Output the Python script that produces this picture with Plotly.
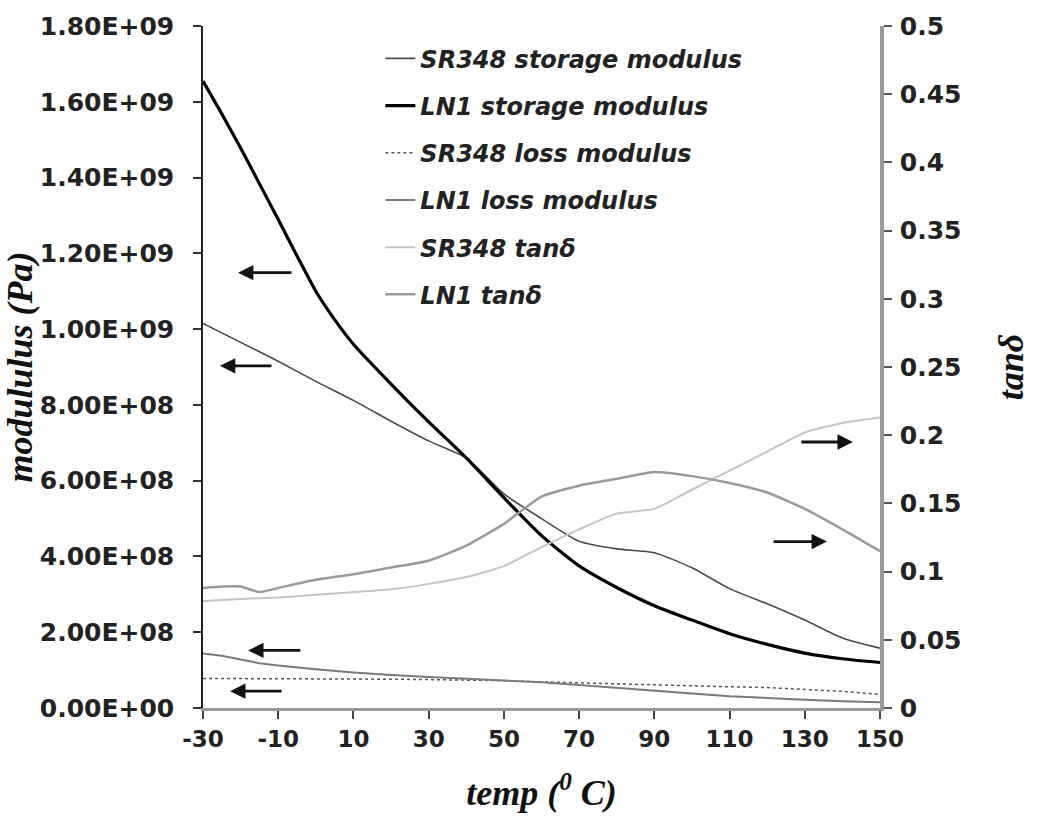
import plotly.graph_objects as go

# ---------------- data ----------------
temp = [-30, -20, -10, 0, 10, 20, 30, 40, 50, 60, 70, 80, 90, 100, 110, 120, 130, 140, 150]

sr348_storage = [1.015e9, 0.965e9, 0.915e9, 0.862e9, 0.812e9, 0.757e9, 0.705e9, 0.66e9, 0.565e9,
                 0.50e9, 0.44e9, 0.42e9, 0.41e9, 0.37e9, 0.315e9, 0.275e9, 0.232e9, 0.185e9, 0.158e9]

ln1_storage_temp = [-30, -25, -20, -15, -10, -5, 0, 5, 10, 20, 30, 40, 50, 60, 70, 80, 90, 100,
                    110, 120, 130, 140, 150]
ln1_storage = [1.655e9, 1.568e9, 1.478e9, 1.384e9, 1.289e9, 1.193e9, 1.10e9, 1.025e9, 0.96e9, 0.855e9,
               0.755e9, 0.66e9, 0.555e9, 0.455e9, 0.375e9, 0.318e9, 0.27e9, 0.232e9, 0.196e9,
               0.168e9, 0.145e9, 0.13e9, 0.12e9]

sr348_loss = [0.078e9, 0.078e9, 0.078e9, 0.078e9, 0.077e9, 0.076e9, 0.075e9, 0.074e9, 0.072e9,
              0.069e9, 0.066e9, 0.063e9, 0.060e9, 0.058e9, 0.056e9, 0.054e9, 0.050e9, 0.044e9, 0.036e9]

ln1_loss_temp = [-30, -25, -20, -15, -10, 0, 10, 20, 30, 40, 50, 60, 70, 80, 90, 100, 110, 120, 130, 140, 150]
ln1_loss = [0.144e9, 0.138e9, 0.128e9, 0.118e9, 0.112e9, 0.102e9, 0.094e9, 0.087e9, 0.082e9, 0.078e9,
            0.073e9, 0.068e9, 0.061e9, 0.053e9, 0.045e9, 0.038e9, 0.031e9, 0.026e9, 0.022e9, 0.018e9, 0.015e9]

sr348_tan = [0.0785, 0.080, 0.081, 0.083, 0.085, 0.087, 0.091, 0.096, 0.104, 0.118,
             0.131, 0.1425, 0.146, 0.160, 0.174, 0.188, 0.202, 0.209, 0.213]

ln1_tan_temp = [-30, -25, -20, -15, -10, 0, 10, 20, 30, 40, 50, 60, 70, 80, 90, 100, 110, 120, 130, 140, 150]
ln1_tan = [0.088, 0.089, 0.089, 0.085, 0.088, 0.094, 0.098, 0.103, 0.108, 0.119, 0.135, 0.155,
           0.163, 0.168, 0.173, 0.170, 0.165, 0.158, 0.146, 0.131, 0.115]

series_names = ["SR348 storage modulus", "LN1 storage modulus", "SR348 loss modulus",
                "LN1 loss modulus", "SR348 tanδ", "LN1 tanδ"]

x_ticks = [-30, -10, 10, 30, 50, 70, 90, 110, 130, 150]
x_ticktext = ["-30", "-10", "10", "30", "50", "70", "90", "110", "130", "150"]
y_ticks = [0, 2e8, 4e8, 6e8, 8e8, 1e9, 1.2e9, 1.4e9, 1.6e9, 1.8e9]
y_ticktext = ["0.00E+00", "2.00E+08", "4.00E+08", "6.00E+08", "8.00E+08",
              "1.00E+09", "1.20E+09", "1.40E+09", "1.60E+09", "1.80E+09"]

# arrows: (tip_x, tail_x, y)
left_arrows = [(-20.7, -6.1, 1.149e9), (-25.5, -11.4, 0.903e9), (-18.0, -3.7, 0.152e9), (-22.8, -8.7, 0.0445e9)]
right_arrows = [(142.8, 128.7, 0.195), (135.9, 121.3, 0.122)]

# ---------------- figure ----------------
fig = go.Figure()

styles = [
    dict(color="#4a4a4a", width=1.6, shape="spline", smoothing=0.6),
    dict(color="#000000", width=3.2, shape="spline", smoothing=0.6),
    dict(color="#555555", width=1.5, dash="dot"),
    dict(color="#7a7a7a", width=2),
    dict(color="#c4c4c4", width=2, shape="spline", smoothing=0.5),
    dict(color="#9a9a9a", width=2.5, shape="spline", smoothing=0.5),
]

fig.add_trace(go.Scatter(x=temp, y=sr348_storage, name=series_names[0], mode="lines",
                         line=styles[0], legendgroup="a"))
fig.add_trace(go.Scatter(x=ln1_storage_temp, y=ln1_storage, name=series_names[1], mode="lines",
                         line=styles[1], legendgroup="b"))
fig.add_trace(go.Scatter(x=temp, y=sr348_loss, name=series_names[2], mode="lines",
                         line=styles[2], legendgroup="c"))
fig.add_trace(go.Scatter(x=ln1_loss_temp, y=ln1_loss, name=series_names[3], mode="lines",
                         line=styles[3], legendgroup="d"))
fig.add_trace(go.Scatter(x=temp, y=sr348_tan, name=series_names[4], mode="lines",
                         line=styles[4], yaxis="y2", legendgroup="e"))
fig.add_trace(go.Scatter(x=ln1_tan_temp, y=ln1_tan, name=series_names[5], mode="lines",
                         line=styles[5], yaxis="y2", legendgroup="f"))

annotations = []
for tip, tail, yv in left_arrows:
    annotations.append(dict(x=tip, y=yv, ax=tail, ay=yv, xref="x", yref="y", axref="x", ayref="y",
                            text="", showarrow=True, arrowhead=2, arrowsize=1.1, arrowwidth=2.8,
                            arrowcolor="#111"))
for tip, tail, yv in right_arrows:
    annotations.append(dict(x=tip, y=yv, ax=tail, ay=yv, xref="x", yref="y2", axref="x", ayref="y2",
                            text="", showarrow=True, arrowhead=2, arrowsize=1.1, arrowwidth=2.8,
                            arrowcolor="#111"))

tickfont = dict(family="DejaVu Sans", size=25, color="#222", weight="bold")
titlefont = dict(family="Liberation Serif", size=36, color="#111", weight="bold", style="italic")

fig.update_layout(
    width=1044, height=822,
    margin=dict(l=203, r=164, t=22, b=114),
    paper_bgcolor="white", plot_bgcolor="white",
    showlegend=True,
    legend=dict(x=0.262, y=0.985, xanchor="left", yanchor="top",
                font=dict(family="DejaVu Sans", size=24, color="#222", weight="bold", style="italic"),
                bgcolor="rgba(0,0,0,0)", traceorder="grouped", tracegroupgap=13),
    annotations=annotations,
    xaxis=dict(range=[-30, 150], tickvals=x_ticks, ticktext=x_ticktext, ticks="outside", ticklen=8,
               tickwidth=2, tickcolor="#444", showline=True, linecolor="#999", linewidth=3, showgrid=False,
               zeroline=False, tickfont=dict(family="DejaVu Sans", size=23, color="#222", weight="bold"),
               title=dict(text="temp (<sup>0</sup> C)", font=titlefont, standoff=30)),
    yaxis=dict(range=[0, 1.8e9], tickvals=y_ticks, ticktext=y_ticktext, ticks="outside", ticklen=8,
               tickwidth=1.5, tickcolor="#333", showline=True, linecolor="#222", linewidth=1.5,
               showgrid=False, zeroline=False, tickfont=tickfont, ticklabelstandoff=14,
               title=dict(text="modululus (Pa)", font=titlefont, standoff=2)),
    yaxis2=dict(range=[0, 0.5], dtick=0.05, tick0=0, overlaying="y", side="right", ticks="outside",
                ticklen=8, tickwidth=2, tickcolor="#555", showline=True, linecolor="#999", linewidth=3.5,
                showgrid=False, zeroline=False, tickfont=tickfont, ticklabelstandoff=3,
                title=dict(text="tanδ", font=titlefont, standoff=38)),
    yaxis3=dict(range=[0, 0.5], dtick=0.05, tick0=0, overlaying="y", side="right", ticks="inside",
                ticklen=8, tickwidth=2, tickcolor="#555", showline=False, showgrid=False,
                zeroline=False, showticklabels=False),
)

fig.write_html("out.html")
